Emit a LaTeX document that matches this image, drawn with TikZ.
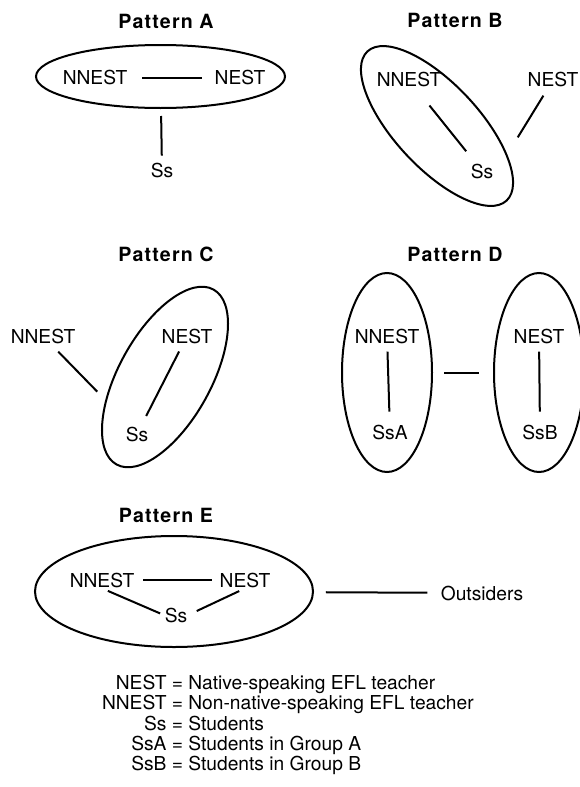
\documentclass[tikz,border=0pt]{standalone}
\usepackage{fontspec}
\setmainfont{TeX Gyre Heros}
\usepackage{tikz}
\usetikzlibrary{shapes.geometric}

\begin{document}
\begin{tikzpicture}[x=0.5pt,y=-0.5pt,line width=1pt,
                    lbl/.style={inner sep=0pt,font=\fontsize{9.6}{10}\selectfont},
                    ttl/.style={inner sep=0pt,font=\fontsize{9.8}{10}\selectfont\bfseries\addfontfeatures{LetterSpace=6}},
                    ring/.style={draw,ellipse,inner sep=0pt}]
                        \useasboundingbox (0,0) rectangle (579,787);
                        \node[ttl] (tA) at (166,21)  {Pattern A};
                        \node[ttl] (tB) at (455,20)  {Pattern B};
                        \node[ttl] (tC) at (166,254) {Pattern C};
                        \node[ttl] (tD) at (455,254) {Pattern D};
                        \node[ttl] (tE) at (166,515) {Pattern E};
                        \node[ring, minimum width=124.5pt, minimum height=31.5pt]             (ellA)  at (160.5,76.5) {};
                        \node[ring, minimum width=102pt,   minimum height=42pt, rotate=-47]   (ellB)  at (437,126)    {};
                        \node[ring, minimum width=100pt,   minimum height=46pt, rotate=61]    (ellC)  at (165,377)    {};
                        \node[ring, minimum width=45pt,    minimum height=99.5pt]             (ellD1) at (387,372.5)  {};
                        \node[ring, minimum width=45pt,    minimum height=99.5pt]             (ellD2) at (539,372.5)  {};
                        \node[ring, minimum width=139pt,   minimum height=55.5pt]             (ellE)  at (174,591.5)  {};
                        \node[lbl] (nnA) at (95,78)   {NNEST};
                        \node[lbl] (neA) at (240,78)  {NEST};
                        \node[lbl] (ssA) at (162,170) {Ss};
                        \node[lbl] (nnB) at (409,80)  {NNEST};
                        \node[lbl] (neB) at (553,80)  {NEST};
                        \node[lbl] (ssB) at (482,171) {Ss};
                        \node[lbl] (nnC) at (43,336)  {NNEST};
                        \node[lbl] (neC) at (187,336) {NEST};
                        \node[lbl] (ssC) at (137,434) {Ss};
                        \node[lbl] (nnD) at (387,336) {NNEST};
                        \node[lbl] (saD) at (390,432) {SsA};
                        \node[lbl] (neD) at (539,336) {NEST};
                        \node[lbl] (sbD) at (540,432) {SsB};
                        \node[lbl] (nnE) at (102,580) {NNEST};
                        \node[lbl] (neE) at (245,580) {NEST};
                        \node[lbl] (ssE) at (176,615) {Ss};
                        \node[lbl] (out) at (482,593) {Outsiders};
                        \node[lbl, anchor=west] (key) at (101,726) {\begin{tabular}{@{}r@{ = }l@{}}
                            NEST  & Native-speaking EFL teacher\\
                            NNEST & Non-native-speaking EFL teacher\\
                            Ss    & Students\\
                            SsA   & Students in Group A\\
                            SsB   & Students in Group B
                        \end{tabular}};
                        \path (nnA)       edge [shorten <=7pt,   shorten >=6pt]    (neA);
                        \path (ellA)      edge [shorten <=3.5pt, shorten >=3pt]    (ssA);
                        \path (nnB)       edge [shorten <=11pt,  shorten >=7.3pt]  (ssB);
                        \path (neB)       edge [shorten <=4.3pt, shorten >=10pt]   (ellB.25);
                        \path (nnC)       edge [shorten <=5.1pt, shorten >=5.8pt]  (ellC.140);
                        \path (neC)       edge [shorten <=4pt,   shorten >=5.4pt]  (ssC);
                        \path (nnD)       edge [shorten <=3.6pt, shorten >=6pt]    (saD);
                        \path (neD)       edge [shorten <=3.6pt, shorten >=6pt]    (sbD);
                        \path (ellD1)     edge [shorten <=5.5pt, shorten >=7pt]    (ellD2);
                        \path (nnE)       edge [shorten <=3.9pt, shorten >=3.4pt]  (neE);
                        \path (nnE.south) edge [shorten <=3.2pt, shorten >=2pt]    (ssE.west);
                        \path (neE.south) edge [shorten <=3.2pt, shorten >=4.7pt]  (ssE.east);
                        \path (ellE)      edge [shorten <=6pt,   shorten >=6.2pt]  (out);
                    \end{tikzpicture}
\end{document}
